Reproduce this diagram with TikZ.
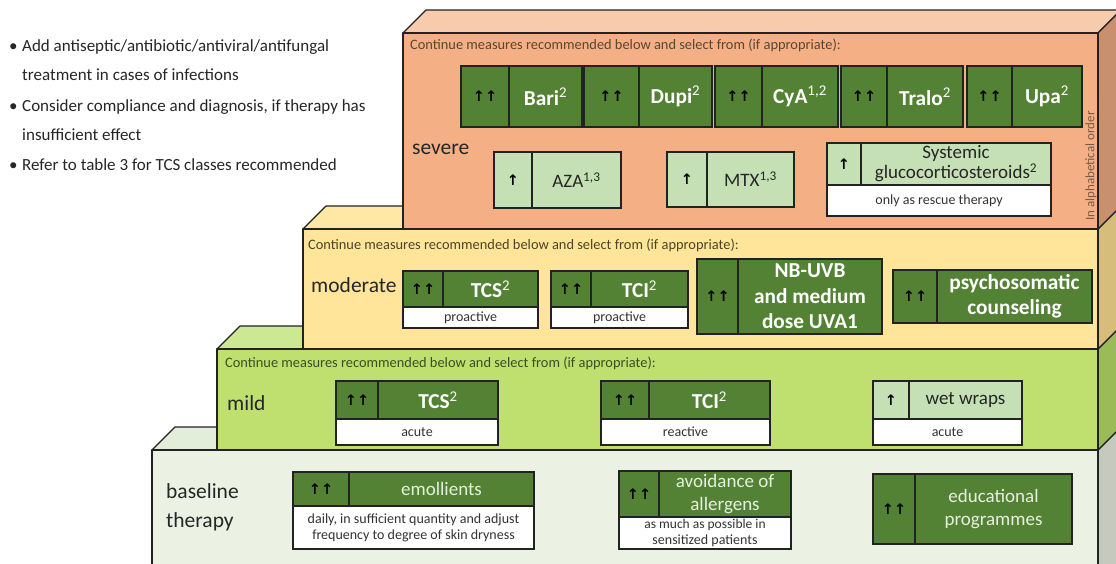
\documentclass[tikz,border=0pt]{standalone}
\usepackage{fontspec}
\setmainfont{Carlito}
\newfontfamily\symfont{DejaVu Sans}
\definecolor{sevF}{HTML}{F4B084}
\definecolor{sevT}{HTML}{F8CBAD}
\definecolor{sevS}{HTML}{C99070}
\definecolor{modF}{HTML}{FFE599}
\definecolor{modT}{HTML}{FFE8A6}
\definecolor{modS}{HTML}{D6BD7B}
\definecolor{milF}{HTML}{BFDF6E}
\definecolor{milT}{HTML}{CDE893}
\definecolor{milS}{HTML}{9BBA58}
\definecolor{basF}{HTML}{EBF2E3}
\definecolor{basT}{HTML}{E3EEDA}
\definecolor{basS}{HTML}{C6CABE}
\definecolor{dgreen}{HTML}{548235}
\definecolor{lgreen}{HTML}{C5E0B4}
\definecolor{edge}{HTML}{222222}
\definecolor{paletxt}{HTML}{E6F0DE}
\definecolor{contS}{HTML}{5A4535}
\definecolor{contM}{HTML}{4A4525}
\definecolor{contL}{HTML}{3A4F20}
\definecolor{alphaT}{HTML}{7A5A48}
\newcommand\ua{{\symfont ↑}}
\newcommand\cell[7]{\node[#2, minimum width={(#5-#3)*1pt}, minimum height={(#6-#4)*1pt}] (#1) at ({(#3+#5)/2},{(#4+#6)/2}) {#7};}
\newcommand\slab[6]{%
  \draw[face, fill=#5] (#1,#2) -- ({#1+23},{#2-23}) -- (1121,{#2-23}) -- (1098,#2) -- cycle;
  \draw[face, fill=#6] (1098,#2) -- (1121,{#2-23}) -- (1121,{#3-23}) -- (1098,#3) -- cycle;
  \draw[face, fill=#4] (#1,#2) rectangle (1098,#3);}
\tikzset{
  face/.style={draw=edge, line width=1.1pt, line join=round},
  cellbase/.style={draw=edge, line width=1.1pt, inner sep=1pt, align=center},
  dg/.style={cellbase, fill=dgreen, text=white, font=\fontsize{21.3}{25.5}\selectfont\bfseries},
  dgr/.style={cellbase, fill=dgreen, text=paletxt, font=\fontsize{19}{23}\selectfont},
  dga/.style={cellbase, fill=dgreen, text=black, font=\fontsize{14.5}{15}\selectfont\bfseries},
  lg/.style={cellbase, fill=lgreen, text=black!85, font=\fontsize{19}{20}\selectfont},
  lga/.style={cellbase, fill=lgreen, text=black, font=\fontsize{14.5}{15}\selectfont\bfseries},
  wl/.style={cellbase, fill=white, text=black!80, font=\fontsize{14}{16}\selectfont},
  cont/.style={anchor=base west, inner sep=0, font=\fontsize{14.4}{16}\selectfont},
  lvl/.style={anchor=base west, inner sep=0, font=\fontsize{21.5}{25}\selectfont, text=black!85},
  bul/.style={anchor=base west, inner sep=0, font=\fontsize{17}{18}\selectfont, text=black!85},
}
\begin{document}
\begin{tikzpicture}[x=1pt,y=-1pt]
\useasboundingbox (0,0) rectangle (1116,563);
\clip (0,0) rectangle (1116,563);
\fill[white] (0,0) rectangle (1116,563);
% slabs
\slab{152}{450}{590}{basF}{basT}{basS}
\slab{217}{349}{450}{milF}{milT}{milS}
\slab{303}{229}{349}{modF}{modT}{modS}
\slab{403}{33}{229}{sevF}{sevT}{sevS}
% bullets
\node[bul] (b1) at (9,51) {•};
\node[bul] (t1) at (22,51) {Add antiseptic/antibiotic/antiviral/antifungal};
\node[bul] (t1b) at (22,80) {treatment in cases of infections};
\node[bul] (b2) at (9,111) {•};
\node[bul] (t2) at (22,111) {Consider compliance and diagnosis, if therapy has};
\node[bul] (t2b) at (22,140) {insufficient effect};
\node[bul] (b3) at (9,170) {•};
\node[bul] (t3) at (22,170) {Refer to table 3 for TCS classes recommended};
% continue texts
\node[cont, text=contS] (csev) at (410,49) {Continue measures recommended below and select from (if appropriate):};
\node[cont, text=contM] (cmod) at (308,249) {Continue measures recommended below and select from (if appropriate):};
\node[cont, text=contL] (cmil) at (225,367) {Continue measures recommended below and select from (if appropriate):};
% level labels
\node[lvl] (lsev) at (412,154) {severe};
\node[lvl] (lmod) at (311,292) {moderate};
\node[lvl] (lmil) at (227,410) {mild};
\node[lvl] (lbas1) at (166,498) {baseline};
\node[lvl] (lbas2) at (166,527) {therapy};
\node[rotate=90, inner sep=0, font=\fontsize{13}{13}\selectfont, text=alphaT] (alpha) at (1091,166) {In alphabetical order};
% severe row 1
\cell{bariA}{dga}{461}{66}{509}{127}{\ua\ua}
\cell{bariB}{dg}{509}{66}{582}{127}{Bari\textsuperscript{\mdseries 2}}
\cell{dupiA}{dga}{584}{66}{639}{127}{\ua\ua}
\cell{dupiB}{dg}{639}{66}{712}{127}{Dupi\textsuperscript{\mdseries 2}}
\cell{cyaA}{dga}{715}{66}{762}{127}{\ua\ua}
\cell{cyaB}{dg}{762}{66}{838}{127}{CyA\textsuperscript{\mdseries 1,2}}
\cell{traA}{dga}{841}{66}{887}{127}{\ua\ua}
\cell{traB}{dg}{887}{66}{963}{127}{Tralo\textsuperscript{\mdseries 2}}
\cell{upaA}{dga}{967}{66}{1012}{127}{\ua\ua}
\cell{upaB}{dg}{1012}{66}{1082}{127}{Upa\textsuperscript{\mdseries 2}}
% severe row 2
\cell{azaA}{lga}{494}{152}{532}{208}{\ua}
\cell{azaB}{lg}{532}{152}{621}{208}{AZA\textsuperscript{1,3}}
\cell{mtxA}{lga}{667}{152}{707}{207}{\ua}
\cell{mtxB}{lg}{707}{152}{794}{207}{MTX\textsuperscript{1,3}}
\cell{sysA}{lga}{827}{143}{861}{185}{\ua}
\cell{sysB}{lg}{861}{143}{1051}{185}{Systemic\\glucocorticosteroids\textsuperscript{2}}
\cell{sysC}{wl}{827}{185}{1051}{216}{only as rescue therapy}
% moderate
\cell{tcsMA}{dga}{403}{271}{443}{307}{\ua\ua}
\cell{tcsMB}{dg}{443}{271}{538}{307}{TCS\textsuperscript{\mdseries 2}}
\cell{tcsMC}{wl}{403}{307}{538}{328}{proactive}
\cell{tciMA}{dga}{551}{271}{591}{307}{\ua\ua}
\cell{tciMB}{dg}{591}{271}{688}{307}{TCI\textsuperscript{\mdseries 2}}
\cell{tciMC}{wl}{551}{307}{688}{328}{proactive}
\cell{nbA}{dga}{697}{259}{738}{334}{\ua\ua}
\cell{nbB}{dg}{738}{259}{882}{334}{NB-UVB\\and medium\\dose UVA1}
\cell{psyA}{dga}{893}{270}{937}{323}{\ua\ua}
\cell{psyB}{dg}{937}{270}{1092}{323}{psychosomatic\\counseling}
% mild
\cell{tcsLA}{dga}{336}{381}{378}{419}{\ua\ua}
\cell{tcsLB}{dg}{378}{381}{498}{419}{TCS\textsuperscript{\mdseries 2}}
\cell{tcsLC}{wl}{336}{419}{498}{445}{acute}
\cell{tciLA}{dga}{601}{381}{649}{419}{\ua\ua}
\cell{tciLB}{dg}{649}{381}{770}{419}{TCI\textsuperscript{\mdseries 2}}
\cell{tciLC}{wl}{601}{419}{770}{445}{reactive}
\cell{wetA}{lga}{873}{381}{909}{419}{\ua}
\cell{wetB}{lg}{909}{381}{1022}{419}{wet wraps}
\cell{wetC}{wl}{873}{419}{1022}{445}{acute}
% baseline
\cell{emoA}{dga}{293}{472}{349}{506}{\ua\ua}
\cell{emoB}{dgr}{349}{472}{534}{506}{emollients}
\cell{emoC}{wl}{293}{506}{534}{549}{daily, in sufficient quantity and adjust\\frequency to degree of skin dryness}
\cell{avoA}{dga}{619}{471}{659}{517}{\ua\ua}
\cell{avoB}{dgr}{659}{471}{791}{517}{avoidance of\\allergens}
\cell{avoC}{wl}{619}{517}{791}{549}{\fontsize{13.5}{15.5}\selectfont as much as possible in\\sensitized patients}
\cell{eduA}{dga}{873}{474}{915}{544}{\ua\ua}
\cell{eduB}{dgr}{915}{474}{1072}{544}{educational\\programmes}
\end{tikzpicture}
\end{document}
